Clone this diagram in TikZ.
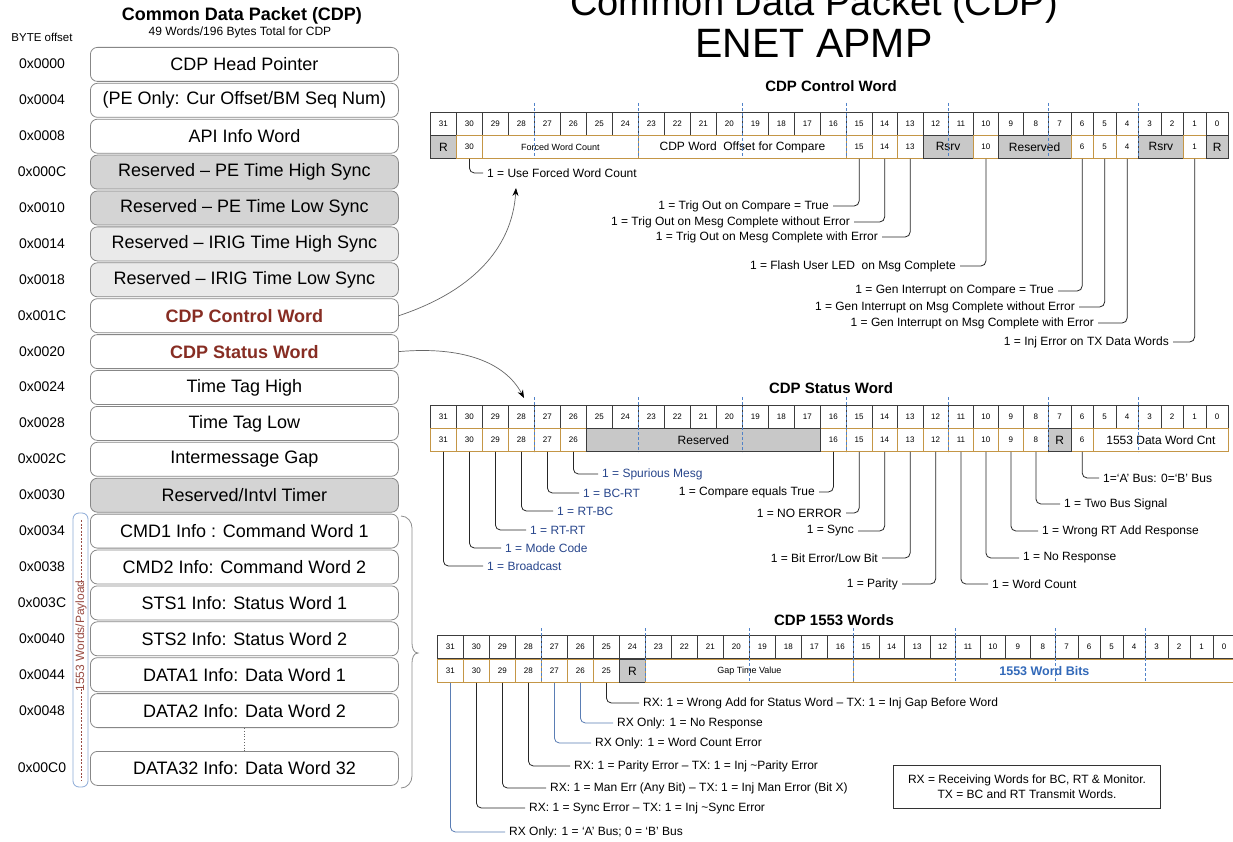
\documentclass[tikz,border=0pt]{standalone}
\usepackage{fontspec}
\setmainfont{Liberation Sans}
\usetikzlibrary{arrows.meta}
\definecolor{boxgray}{RGB}{135,135,135}
\definecolor{gold}{RGB}{196,150,70}
\definecolor{cellgray}{RGB}{200,200,200}
\definecolor{dkred}{RGB}{135,45,35}
\definecolor{navy}{RGB}{40,70,140}
\definecolor{dashblue}{RGB}{80,130,200}
\definecolor{lineblue}{RGB}{90,125,180}
\definecolor{bitsblue}{RGB}{50,105,185}
\definecolor{pegray}{RGB}{212,212,212}
\definecolor{irig}{RGB}{234,234,234}
\definecolor{cellline}{RGB}{60,60,60}
\definecolor{brkblue}{RGB}{140,170,215}

\def\EL{{0,26,52,78,104,130,156,182,208,234,260,286,312,338,364,390,416,441.5,467,492.5,518,543,568,593,618,640.5,663,685.5,708,730.5,753,775.5,798}}

\newcommand\bitrow[3]{%
  \foreach \bb in {0,...,31}{%
    \pgfmathsetmacro\bea{\EL[31-\bb]}%
    \pgfmathsetmacro\beb{\EL[32-\bb]}%
    \pgfmathsetmacro\bxa{#2+\bea}%
    \pgfmathsetmacro\bfw{\beb-\bea}%
    \node[topcell, minimum width=\bfw pt, anchor=north west] (#1-t\bb) at (\bxa,#3) {\bb};
  }%
}
\newcommand\fld[7]{%
  \pgfmathsetmacro\bea{\EL[31-#4]}%
  \pgfmathsetmacro\beb{\EL[32-#5]}%
  \pgfmathsetmacro\bxa{#2+\bea}%
  \pgfmathsetmacro\bfw{\beb-\bea}%
  \node[#6, minimum width=\bfw pt, anchor=north west] (#1) at (\bxa,#3) {#7};
}
\newcommand\nibs[3]{%
  \foreach \kk in {4,8,...,28}{%
    \pgfmathsetmacro\nx{#1+\EL[\kk]}%
    \draw[nib] (\nx,#2) -- (\nx,#3);
  }%
}
\newcommand\lrow[5]{%
  \pgfmathsetmacro\lyc{#2+17}%
  \node[offs] (of#1) at (42,\lyc) {#4};
  \node[cdpbox,#3] (lb#1) at (90,#2) {#5};
}

\begin{document}
\begin{tikzpicture}[x=1pt,y=-1pt,
  cdpbox/.style={draw=boxgray, line width=0.8pt, rounded corners=7pt, minimum width=308pt, minimum height=34pt, inner sep=0pt, anchor=north west, fill=white, font=\fontsize{18}{20}\selectfont},
  offs/.style={inner sep=0pt, font=\fontsize{14}{16}\selectfont},
  topcell/.style={draw=cellline, fill=white, line width=0.8pt, minimum height=23pt, inner sep=0pt, font=\fontsize{8}{9}\selectfont},
  gf/.style={draw=gold, fill=white, line width=0.8pt, minimum height=23pt, inner sep=0pt, font=\fontsize{8}{9}\selectfont},
  rf/.style={draw=cellline, fill=cellgray, line width=0.8pt, minimum height=23pt, inner sep=0pt, font=\fontsize{12}{14}\selectfont},
  tabtitle/.style={inner sep=0pt, font=\bfseries\fontsize{15}{17}\selectfont},
  lbl/.style={inner sep=0pt, font=\fontsize{12}{14}\selectfont},
  blbl/.style={lbl, text=navy},
  callout/.style={draw=black!85, line width=0.8pt, rounded corners=5pt},
  bcallout/.style={callout, draw=lineblue},
  conn/.style={draw=black!60, line width=0.7pt, -{Stealth[length=8pt,width=6pt,black]}},
  nib/.style={draw=dashblue, line width=0.9pt, dash pattern=on 3pt off 2pt}
]
\useasboundingbox (0,0) rectangle (1233,842);
\fill[white] (0,0) rectangle (1233,842);

% ---------- left column ----------
\node[inner sep=0pt, font=\bfseries\fontsize{18}{20}\selectfont] (ltitle) at (242,16) {Common Data Packet (CDP)};
\node[inner sep=0pt, font=\fontsize{12}{13}\selectfont] (lsub) at (240,32) {49 Words/196 Bytes Total for CDP};
\node[inner sep=0pt, font=\fontsize{11.5}{13}\selectfont] (byteoff) at (42,37) {BYTE offset};

\lrow{0}{47}{}{0x0000}{CDP Head Pointer}
\lrow{1}{82.9}{}{0x0004}{(PE Only: Cur Offset/BM Seq Num)}
\lrow{2}{118.8}{}{0x0008}{API Info Word}
\lrow{3}{154.7}{fill=pegray}{0x000C}{Reserved – PE Time High Sync}
\lrow{4}{190.6}{fill=pegray}{0x0010}{Reserved – PE Time Low Sync}
\lrow{5}{226.5}{fill=irig}{0x0014}{Reserved – IRIG Time High Sync}
\lrow{6}{262.4}{fill=irig}{0x0018}{Reserved – IRIG Time Low Sync}
\lrow{7}{298.3}{text=dkred,font=\bfseries\fontsize{18}{20}\selectfont}{0x001C}{CDP Control Word}
\lrow{8}{334.2}{text=dkred,font=\bfseries\fontsize{18}{20}\selectfont}{0x0020}{CDP Status Word}
\lrow{9}{370.1}{}{0x0024}{Time Tag High}
\lrow{10}{406}{}{0x0028}{Time Tag Low}
\lrow{11}{441.9}{}{0x002C}{Intermessage Gap}
\lrow{12}{477.8}{fill=pegray}{0x0030}{Reserved/Intvl Timer}
\lrow{13}{513.7}{}{0x0034}{CMD1 Info : Command Word 1}
\lrow{14}{549.6}{}{0x0038}{CMD2 Info: Command Word 2}
\lrow{15}{585.5}{}{0x003C}{STS1 Info: Status Word 1}
\lrow{16}{621.4}{}{0x0040}{STS2 Info: Status Word 2}
\lrow{17}{657.3}{}{0x0044}{DATA1 Info: Data Word 1}
\lrow{18}{693.2}{}{0x0048}{DATA2 Info: Data Word 2}
\lrow{19}{751}{}{0x00C0}{DATA32 Info: Data Word 32}
\draw[black!60, line width=0.8pt, dotted] (lb18.south) -- (lb19.north);

% payload bracket
\draw[brkblue, line width=0.8pt, rounded corners=6pt] (73,513) rectangle (88,787);
\node[inner sep=0pt, rotate=90, text=dkred!85, font=\fontsize{12}{14}\selectfont] (payload) at (81,636) {1553 Words/Payload};
\draw[dkred!85, line width=0.6pt, dash pattern=on 2pt off 1.5pt] (81,520) -- ([yshift=-3pt]payload.east);
\draw[dkred!85, line width=0.6pt, dash pattern=on 2pt off 1.5pt] ([yshift=3pt]payload.west) -- (81,780);

% right brace
\draw[black!45, line width=0.8pt] (401,516) to[out=0,in=90] (412,528) -- (412,643) to[out=-90,in=180] (418,653) to[out=180,in=90] (412,663) -- (412,776) to[out=-90,in=0] (401,788);

% ---------- right titles ----------
\node[anchor=base, inner sep=0pt, font=\fontsize{38}{42}\selectfont] (rtitle1) at (814,16) {Common Data Packet (CDP)};
\node[anchor=base, inner sep=0pt, font=\fontsize{41}{45}\selectfont] (rtitle2) at (814,58) {ENET APMP};

% ---------- CDP Control Word ----------
\node[tabtitle] (cwtitle) at (831,86) {CDP Control Word};
\bitrow{cw}{430}{112}
\fld{cw-31}{430}{135}{31}{31}{rf}{R}
\fld{cw-30}{430}{135}{30}{30}{gf}{30}
\fld{cw-fwc}{430}{135}{29}{24}{gf,font=\fontsize{9}{10}\selectfont}{Forced Word Count}
\fld{cw-off}{430}{135}{23}{16}{gf,font=\fontsize{12}{14}\selectfont}{CDP Word~ Offset for Compare}
\fld{cw-15}{430}{135}{15}{15}{gf}{15}
\fld{cw-14}{430}{135}{14}{14}{gf}{14}
\fld{cw-13}{430}{135}{13}{13}{gf}{13}
\fld{cw-rs1}{430}{135}{12}{11}{rf}{Rsrv}
\fld{cw-10}{430}{135}{10}{10}{gf}{10}
\fld{cw-res}{430}{135}{9}{7}{rf}{Reserved}
\fld{cw-6}{430}{135}{6}{6}{gf}{6}
\fld{cw-5}{430}{135}{5}{5}{gf}{5}
\fld{cw-4}{430}{135}{4}{4}{gf}{4}
\fld{cw-rs2}{430}{135}{3}{2}{rf}{Rsrv}
\fld{cw-1}{430}{135}{1}{1}{gf}{1}
\fld{cw-0}{430}{135}{0}{0}{rf}{R}
\nibs{430}{103}{158}

\node[lbl, anchor=west] (cl30) at (487,173) {1 = Use Forced Word Count};
\node[lbl, anchor=east] (cl15) at (829,206) {1 = Trig Out on Compare = True};
\node[lbl, anchor=east] (cl14) at (850,222) {1 = Trig Out on Mesg Complete without Error};
\node[lbl, anchor=east] (cl13) at (878,237) {1 = Trig Out on Mesg Complete with Error};
\node[lbl, anchor=east] (cl10) at (956,266) {1 = Flash User LED~ on Msg Complete};
\node[lbl, anchor=east] (cl6) at (1054,291) {1 = Gen Interrupt on Compare = True};
\node[lbl, anchor=east] (cl5) at (1075,307) {1 = Gen Interrupt on Msg Complete without Error};
\node[lbl, anchor=east] (cl4) at (1094,323) {1 = Gen Interrupt on Msg Complete with Error};
\node[lbl, anchor=east] (cl1) at (1169,342) {1 = Inj Error on TX Data Words};
\draw[callout] (cw-30.south) |- ([xshift=-4pt]cl30.west);
\foreach \n in {15,14,13,10,6,5,4,1}{
  \draw[callout] (cw-\n.south) |- ([xshift=4pt]cl\n.east);
}

% ---------- CDP Status Word ----------
\node[tabtitle] (swtitle) at (831,388) {CDP Status Word};
\bitrow{sw}{430}{405}
\foreach \n in {31,30,29,28,27,26,16,15,14,13,12,11,10,9,8,6}{
  \fld{sw-\n}{430}{428}{\n}{\n}{gf}{\n}
}
\fld{sw-res}{430}{428}{25}{17}{rf}{Reserved}
\fld{sw-7}{430}{428}{7}{7}{rf}{R}
\fld{sw-cnt}{430}{428}{5}{0}{gf,font=\fontsize{12}{14}\selectfont}{1553 Data Word Cnt}
\nibs{430}{397}{452}

\node[blbl, anchor=west] (sl26) at (602,474) {1 = Spurious Mesg};
\node[blbl, anchor=west] (sl27) at (583,493) {1 = BC-RT};
\node[blbl, anchor=west] (sl28) at (557,511) {1 = RT-BC};
\node[blbl, anchor=west] (sl29) at (530,530) {1 = RT-RT};
\node[blbl, anchor=west] (sl30) at (505,548) {1 = Mode Code};
\node[blbl, anchor=west] (sl31) at (487,566) {1 = Broadcast};
\foreach \n in {26,27,28,29,30,31}{
  \draw[callout] (sw-\n.south) |- ([xshift=-4pt]sl\n.west);
}
\node[lbl, anchor=east] (sl16) at (815,492) {1 = Compare equals True};
\node[lbl, anchor=east] (sl15) at (842,513) {1 = NO ERROR};
\node[lbl, anchor=east] (sl14) at (854,531) {1 = Sync};
\node[lbl, anchor=east] (sl13) at (878,558) {1 = Bit Error/Low Bit};
\node[lbl, anchor=east] (sl12) at (898,584) {1 = Parity};
\foreach \n in {16,15,14,13,12}{
  \draw[callout] (sw-\n.south) |- ([xshift=4pt]sl\n.east);
}
\node[lbl, anchor=west] (sl11) at (992,584) {1 = Word Count};
\node[lbl, anchor=west] (sl10) at (1023,558) {1 = No Response};
\node[lbl, anchor=west] (sl9) at (1042,531) {1 = Wrong RT Add Response};
\node[lbl, anchor=west] (sl8) at (1064,504) {1 = Two Bus Signal};
\node[lbl, anchor=west] (sl6) at (1103,478) {1=‘A’ Bus: 0=‘B’ Bus};
\foreach \n in {11,10,9,8,6}{
  \draw[callout] (sw-\n.south) |- ([xshift=-4pt]sl\n.west);
}

% ---------- CDP 1553 Words ----------
\node[tabtitle] (dwtitle) at (834,620) {CDP 1553 Words};
\bitrow{dw}{437}{635}
\foreach \n in {31,30,29,28,27,26,25}{
  \fld{dw-\n}{437}{659}{\n}{\n}{gf}{\n}
}
\fld{dw-24}{437}{659}{24}{24}{rf}{R}
\fld{dw-gap}{437}{659}{23}{16}{gf,font=\fontsize{9}{10}\selectfont}{Gap Time Value}
\fld{dw-bits}{437}{659}{15}{0}{gf,text=bitsblue,font=\bfseries\fontsize{12.5}{14}\selectfont}{1553 Word Bits}
\nibs{437}{628}{682}

\node[lbl, anchor=west] (dl25) at (643,703) {RX: 1 = Wrong Add for Status Word – TX: 1 = Inj Gap Before Word};
\node[lbl, anchor=west] (dl26) at (617,723) {RX Only: 1 = No Response};
\node[lbl, anchor=west] (dl27) at (595,743) {RX Only: 1 = Word Count Error};
\node[lbl, anchor=west] (dl28) at (574,766) {RX: 1 = Parity Error – TX: 1 = Inj \textasciitilde Parity Error};
\node[lbl, anchor=west] (dl29) at (550,788) {RX: 1 = Man Err (Any Bit) – TX: 1 = Inj Man Error (Bit X)};
\node[lbl, anchor=west] (dl30) at (529,808) {RX: 1 = Sync Error – TX: 1 = Inj \textasciitilde Sync Error};
\node[lbl, anchor=west] (dl31) at (509,832) {RX Only: 1 = ‘A’ Bus; 0 = ‘B’ Bus};
\foreach \n in {25,28,29,30}{
  \draw[callout] (dw-\n.south) |- ([xshift=-4pt]dl\n.west);
}
\foreach \n in {26,27,31}{
  \draw[bcallout] (dw-\n.south) |- ([xshift=-4pt]dl\n.west);
}
\node[draw=black!80, line width=0.8pt, minimum width=267pt, minimum height=43pt, align=center, font=\fontsize{12}{15}\selectfont] (legend) at (1027,787) {RX = Receiving Words for BC, RT \& Monitor.\\TX = BC and RT Transmit Words.};

% ---------- curved connectors ----------
\coordinate (cwtip) at (516,188);
\coordinate (swtip) at (524,398);
\draw[conn] (lb7.east) .. controls (470,292) and (512,250) .. (cwtip);
\draw[conn] (lb8.east) .. controls (462,346) and (505,362) .. (swtip);
\end{tikzpicture}
\end{document}
